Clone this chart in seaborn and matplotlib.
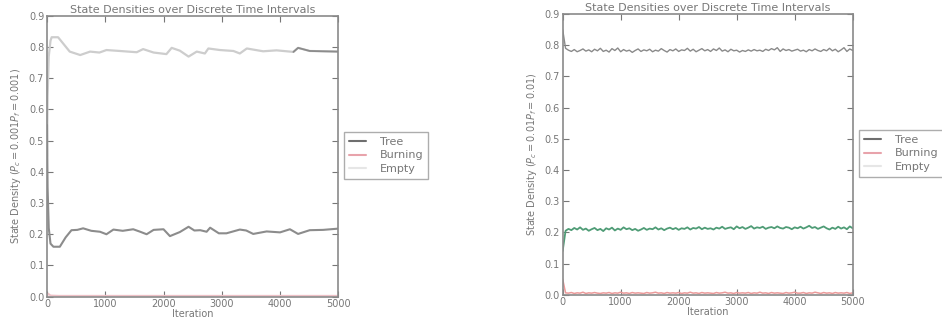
import numpy as np
import pandas as pd
import matplotlib
matplotlib.use("Agg")
import matplotlib.pyplot as plt
from matplotlib.lines import Line2D
import seaborn as sns

# ---- left panel (Pc = 0.001, Pf = 0.001) ----
left_tree_x = [0, 10, 30, 60, 110, 220, 320, 420, 520, 620, 760, 910, 1020, 1140, 1300,
               1480, 1600, 1710, 1830, 2000, 2110, 2280, 2430, 2530, 2630, 2740, 2800,
               2950, 3080, 3310, 3420, 3540, 3770, 4000, 4170, 4310, 4510, 4740, 5000]
left_tree = [0.55, 0.35, 0.22, 0.17, 0.160, 0.160, 0.190, 0.213, 0.214, 0.219, 0.211,
             0.208, 0.200, 0.215, 0.211, 0.216, 0.208, 0.200, 0.214, 0.216, 0.194,
             0.207, 0.224, 0.212, 0.213, 0.208, 0.221, 0.203, 0.203, 0.215, 0.212,
             0.201, 0.209, 0.206, 0.216, 0.201, 0.213, 0.214, 0.218]

left_empty_x = [0, 10, 30, 60, 80, 190, 390, 570, 740, 900, 1020, 1250, 1540, 1650, 1830,
                2050, 2140, 2280, 2430, 2570, 2710, 2770, 2970, 3200, 3310, 3430, 3710,
                3940, 4230, 4310, 4510, 4740, 5000]
left_empty = [0.45, 0.64, 0.77, 0.82, 0.831, 0.831, 0.785, 0.774, 0.785, 0.782, 0.790,
              0.787, 0.783, 0.793, 0.782, 0.777, 0.797, 0.788, 0.769, 0.785, 0.779,
              0.795, 0.790, 0.787, 0.779, 0.795, 0.786, 0.789, 0.784, 0.797, 0.787,
              0.786, 0.785]

left_burn_x = [0, 20, 60, 200, 1000, 2000, 3000, 4000, 5000]
left_burn = [0.0, 0.01, 0.004, 0.003, 0.003, 0.003, 0.003, 0.003, 0.003]

# ---- right panel (Pc = 0.01, Pf = 0.01), one reading every 50 iterations ----
right_iter = list(range(0, 5001, 50))
right_tree = [0.85, 0.790,
              0.784, 0.780, 0.786, 0.779, 0.783, 0.788, 0.781, 0.785, 0.779, 0.787,
              0.782, 0.790, 0.780, 0.784, 0.778, 0.789, 0.783, 0.791, 0.779, 0.786,
              0.781, 0.784, 0.777, 0.783, 0.788, 0.780, 0.785, 0.782, 0.787, 0.779,
              0.784, 0.781, 0.789, 0.783, 0.778, 0.786, 0.782, 0.788, 0.780, 0.785,
              0.783, 0.790, 0.781, 0.787, 0.779, 0.784, 0.789, 0.782, 0.786, 0.780,
              0.788, 0.783, 0.791, 0.781, 0.785, 0.779, 0.787, 0.782, 0.784, 0.778,
              0.783, 0.780, 0.785, 0.781, 0.786, 0.782, 0.784, 0.780, 0.787, 0.783,
              0.789, 0.785, 0.792, 0.780, 0.788, 0.783, 0.786, 0.781, 0.784, 0.787,
              0.781, 0.784, 0.779, 0.786, 0.782, 0.788, 0.783, 0.780, 0.786, 0.782,
              0.790, 0.782, 0.787, 0.779, 0.785, 0.792, 0.780, 0.788, 0.783]
right_green = [0.14, 0.205,
               0.211, 0.207, 0.214, 0.209, 0.216, 0.208, 0.212, 0.205, 0.210, 0.214,
               0.207, 0.211, 0.204, 0.213, 0.209, 0.215, 0.206, 0.212, 0.208, 0.216,
               0.210, 0.213, 0.207, 0.211, 0.205, 0.209, 0.214, 0.208, 0.212, 0.210,
               0.216, 0.209, 0.213, 0.207, 0.212, 0.215, 0.210, 0.214, 0.208, 0.213,
               0.211, 0.216, 0.209, 0.214, 0.212, 0.217, 0.210, 0.215, 0.211, 0.213,
               0.209, 0.215, 0.212, 0.218, 0.211, 0.214, 0.216, 0.210, 0.219, 0.213,
               0.217, 0.211, 0.215, 0.220, 0.212, 0.216, 0.214, 0.218, 0.211, 0.215,
               0.217, 0.213, 0.219, 0.214, 0.212, 0.217, 0.215, 0.210, 0.216, 0.213,
               0.218, 0.212, 0.216, 0.221, 0.214, 0.217, 0.211, 0.215, 0.219, 0.213,
               0.209, 0.215, 0.211, 0.218, 0.212, 0.216, 0.210, 0.219, 0.213]
right_burn = [0.05, 0.006,
              0.005, 0.007, 0.004, 0.006, 0.005, 0.008, 0.004, 0.006, 0.005, 0.007,
              0.005, 0.004, 0.006, 0.005, 0.007, 0.004, 0.006, 0.005, 0.008, 0.005,
              0.006, 0.004, 0.007, 0.005, 0.006, 0.005, 0.004, 0.007, 0.005, 0.006,
              0.008, 0.005, 0.006, 0.004, 0.007, 0.005, 0.006, 0.005, 0.007, 0.004,
              0.006, 0.005, 0.008, 0.005, 0.006, 0.004, 0.007, 0.005, 0.006, 0.005,
              0.004, 0.007, 0.005, 0.006, 0.008, 0.005, 0.006, 0.004, 0.007, 0.005,
              0.006, 0.005, 0.007, 0.004, 0.006, 0.005, 0.008, 0.005, 0.006, 0.004,
              0.007, 0.005, 0.006, 0.005, 0.004, 0.007, 0.005, 0.006, 0.008, 0.005,
              0.005, 0.007, 0.004, 0.006, 0.005, 0.008, 0.006, 0.004, 0.007, 0.005,
              0.006, 0.004, 0.007, 0.005, 0.006, 0.005, 0.007, 0.004, 0.006]

legend_labels = ["Tree", "Burning", "Empty"]
legend_colors = ["#6e6e6e", "#e8a3ab", "#e6e6e6"]
title = "State Densities over Discrete Time Intervals"
ylabels = [r"State Density ($P_c=0.001 P_f=0.001$)",
           r"State Density ($P_c=0.01 P_f=0.01$)"]

sns.set_style("ticks")
plt.rcParams["font.family"] = ["DejaVu Sans"]
txt = "#777777"

fig = plt.figure(figsize=(9.42, 3.25), dpi=100)
ax1 = fig.add_axes([0.0499, 0.0871, 0.3092, 0.8646])
ax2 = fig.add_axes([0.5973, 0.0932, 0.3079, 0.8637])

# left panel
sns.lineplot(x=left_burn_x, y=left_burn, ax=ax1, color="#eec0c6", lw=1.3)
sns.lineplot(x=left_empty_x, y=left_empty, ax=ax1, color="#cdcdcd", lw=1.6)
late = [i for i, v in enumerate(left_empty_x) if v >= 4230]
sns.lineplot(x=[left_empty_x[i] for i in late], y=[left_empty[i] for i in late],
             ax=ax1, color="#8c8c8c", lw=1.3)
sns.lineplot(x=left_tree_x, y=left_tree, ax=ax1, color="#8c8c8c", lw=1.5)

# right panel
df_r = pd.DataFrame({"it": right_iter, "tree": right_tree,
                     "green": right_green, "burn": right_burn})
sns.lineplot(data=df_r, x="it", y="burn", ax=ax2, color="#eb9a9a", lw=1.1)
sns.lineplot(data=df_r, x="it", y="tree", ax=ax2, color="#8a8a8a", lw=1.0)
sns.lineplot(data=df_r, x="it", y="green", ax=ax2, color="#4f9c76", lw=1.3)

handles = [Line2D([0], [0], color=c, lw=1.5) for c in legend_colors]
for ax, yl, lx, ly in [(ax1, ylabels[0], 338, 126), (ax2, ylabels[1], 853, 124)]:
    ax.set_xlim(0, 5000)
    ax.set_ylim(0, 0.9)
    ax.set_xticks([0, 1000, 2000, 3000, 4000, 5000])
    ax.set_yticks(np.arange(0, 0.91, 0.1))
    ax.set_yticklabels([f"{v:.1f}" for v in np.arange(0, 0.91, 0.1)])
    ax.tick_params(direction="in", top=True, right=True, length=4, width=0.8,
                   labelsize=7, colors=txt, pad=2)
    for s in ax.spines.values():
        s.set_color("#8a8a8a")
        s.set_linewidth(1.2)
    ax.set_title(title, fontsize=8, color=txt, pad=2)
    ax.set_xlabel("Iteration", fontsize=7, color=txt, labelpad=0)
    ax.set_ylabel(yl, fontsize=7, color=txt, labelpad=4)
    leg = fig.legend(handles, legend_labels, loc="upper left",
                     bbox_to_anchor=(lx / 942, 1 - ly / 325),
                     bbox_transform=fig.transFigure, fontsize=8, frameon=True,
                     fancybox=False, handlelength=1.6, borderpad=0.45,
                     labelspacing=0.35, handletextpad=1.2)
    leg.get_frame().set_edgecolor("#999999")
    for t in leg.get_texts():
        t.set_color(txt)

fig.savefig("out.png", dpi=100)
